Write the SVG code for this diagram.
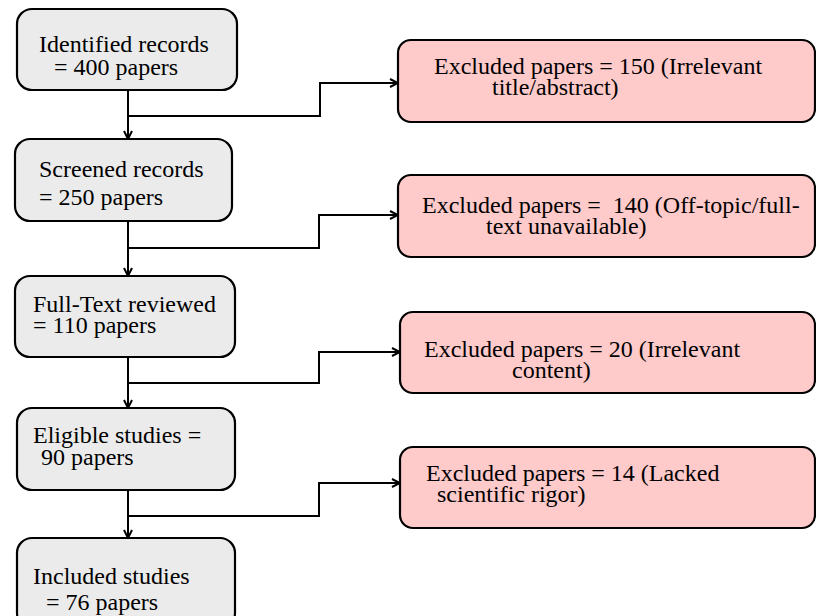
<svg xmlns="http://www.w3.org/2000/svg" width="816" height="616" viewBox="0 0 816 616">
<defs>
<style>
.box{fill:#ebebeb;stroke:#000;stroke-width:2.2}
.ex{fill:#ffcaca;stroke:#000;stroke-width:2.2}
.t{font-family:"Liberation Serif","Times New Roman",serif;font-size:24px;fill:#000;white-space:pre}
.c{fill:none;stroke:#000;stroke-width:2}
</style>
<marker id="ah" viewBox="0 0 10 10" refX="9" refY="5" markerWidth="10" markerHeight="10" markerUnits="userSpaceOnUse" orient="auto">
<path d="M1,1 L9,5 L1,9" fill="none" stroke="#000" stroke-width="2"/>
</marker>
</defs>
<rect width="816" height="616" fill="#fff"/>
<g id="connectors">
<path class="c" d="M128,90 V139" marker-end="url(#ah)"/>
<path class="c" d="M128,116 H320 V83 H398" marker-end="url(#ah)"/>
<path class="c" d="M128,221 V276" marker-end="url(#ah)"/>
<path class="c" d="M128,248 H319 V215 H398" marker-end="url(#ah)"/>
<path class="c" d="M128,357 V408" marker-end="url(#ah)"/>
<path class="c" d="M128,383 H319 V352 H400" marker-end="url(#ah)"/>
<path class="c" d="M128,490 V538" marker-end="url(#ah)"/>
<path class="c" d="M128,516 H319 V483 H400" marker-end="url(#ah)"/>
</g>
<g id="identified">
<rect class="box" x="17" y="9" width="220" height="81" rx="15"/>
<text class="t" x="39" y="52">Identified records</text>
<text class="t" x="54" y="75">= 400 papers</text>
</g>
<g id="screened">
<rect class="box" x="15" y="139" width="217" height="82" rx="15"/>
<text class="t" x="39" y="177">Screened records</text>
<text class="t" x="39" y="205">= 250 papers</text>
</g>
<g id="fulltext">
<rect class="box" x="15" y="276" width="220" height="81" rx="15"/>
<text class="t" x="33" y="312">Full-Text reviewed</text>
<text class="t" x="33" y="333">= 110 papers</text>
</g>
<g id="eligible">
<rect class="box" x="17" y="408" width="218" height="82" rx="15"/>
<text class="t" x="33" y="443">Eligible studies =</text>
<text class="t" x="41" y="465">90 papers</text>
</g>
<g id="included">
<rect class="box" x="17" y="538" width="218" height="90" rx="15"/>
<text class="t" x="33" y="584">Included studies</text>
<text class="t" x="46" y="610">= 76 papers</text>
</g>
<g id="excluded1">
<rect class="ex" x="398" y="40" width="417" height="82" rx="13"/>
<text class="t" x="434" y="74">Excluded papers = 150 (Irrelevant</text>
<text class="t" x="492" y="95">title/abstract)</text>
</g>
<g id="excluded2">
<rect class="ex" x="398" y="175" width="417" height="82" rx="13"/>
<text class="t" x="422" y="213">Excluded papers =&#160; 140 (Off-topic/full-</text>
<text class="t" x="486" y="234">text unavailable)</text>
</g>
<g id="excluded3">
<rect class="ex" x="400" y="312" width="415" height="81" rx="13"/>
<text class="t" x="424" y="357">Excluded papers = 20 (Irrelevant</text>
<text class="t" x="512" y="378">content)</text>
</g>
<g id="excluded4">
<rect class="ex" x="400" y="447" width="415" height="81" rx="13"/>
<text class="t" x="426" y="481">Excluded papers = 14 (Lacked</text>
<text class="t" x="437" y="502">scientific rigor)</text>
</g>
</svg>
